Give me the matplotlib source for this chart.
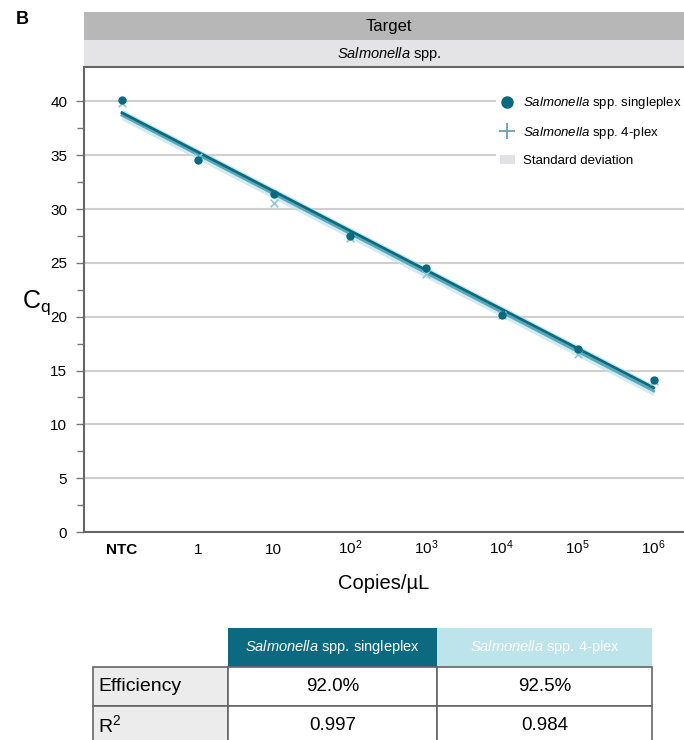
import numpy as np
import matplotlib
matplotlib.use('Agg')
import matplotlib.pyplot as plt
from matplotlib.patches import Rectangle, Patch
from matplotlib.lines import Line2D

plt.rcParams['font.family'] = ['Liberation Sans', 'DejaVu Sans']
plt.rcParams['mathtext.fontset'] = 'custom'
plt.rcParams['mathtext.rm'] = 'Liberation Sans'
plt.rcParams['mathtext.it'] = 'Liberation Sans:italic'
plt.rcParams['mathtext.bf'] = 'Liberation Sans:bold'

# data
dilutions = ['NTC', '1', '10', '10$^2$', '10$^3$', '10$^4$', '10$^5$', '10$^6$']
cq_single = [40.1, 34.6, 31.4, 27.5, 24.5, 20.2, 17.0, 14.1]
cq_4plex = [39.9, 34.8, 30.6, 27.3, 24.0, 20.2, 16.5, 14.0]
sd_single = 0.3
sd_4plex = 0.45

table_cols = ['$\\it{Salmonella}$ spp. singleplex', '$\\it{Salmonella}$ spp. 4-plex']
table_rows = ['Efficiency', 'R$^2$']
table_vals = [['92.0%', '92.5%'], ['0.997', '0.984']]

dark = '#0b6a80'
light = '#8dcbd8'
W, H = 684, 740

fig = plt.figure(figsize=(W / 100, H / 100), dpi=100)

# overlay in pixel coords for the header bands and the table
over = fig.add_axes([0, 0, 1, 1])
over.set_xlim(0, W)
over.set_ylim(H, 0)
over.axis('off')

over.text(22, 20, 'B', fontsize=13, fontweight='bold', ha='center', va='center')
over.add_patch(Rectangle((84, 12), W - 84, 28, color='#b7b7b8', lw=0))
over.add_patch(Rectangle((84, 40), W - 84, 26, color='#e4e4e6', lw=0))
over.text(389, 27, 'Target', fontsize=12, ha='center', va='center')
over.text(389, 54, '$\\it{Salmonella}$ spp.', fontsize=10.5, ha='center', va='center')

ax = fig.add_axes([84 / W, (H - 532) / H, (W - 84) / W, (532 - 67) / H])
x = np.arange(len(dilutions))

for vals, sd, col, lcol in [(cq_4plex, sd_4plex, '#bfe3ea', '#5aa8ba'),
                            (cq_single, sd_single, '#a9d8e2', dark)]:
    k, b = np.polyfit(x, vals, 1)
    fit = k * x + b
    ax.fill_between(x, fit - sd, fit + sd, color=col, alpha=0.7, lw=0, zorder=2)
    ax.plot(x, fit, color=lcol, lw=2, zorder=3)

ax.scatter(x, cq_4plex, marker='x', s=30, color=light, lw=1.2, zorder=4)
ax.scatter(x, cq_single, marker='o', s=36, color=dark, lw=0, zorder=5)

ax.set_xlim(-0.5, 7.4)
ax.set_ylim(0, 43.2)
ax.set_yticks(np.arange(0, 41, 5))
ax.set_yticks(np.arange(2.5, 41, 5), minor=True)
ax.yaxis.grid(True, color='#cfcfcf', lw=1.5)
ax.set_axisbelow(True)
ax.set_xticks(x)
ax.set_xticklabels(dilutions)
ax.tick_params(axis='y', which='major', length=6, width=1, color='#777777', labelsize=11, pad=6)
ax.tick_params(axis='y', which='minor', length=5, width=1, color='#777777')
ax.tick_params(axis='x', length=0, labelsize=11, pad=16)
for lab in ax.get_xticklabels():
    lab.set_va('baseline')
ax.get_xticklabels()[0].set_fontweight('bold')
ax.spines['right'].set_visible(False)
for s in ['left', 'bottom', 'top']:
    ax.spines[s].set_color('#666666')
    ax.spines[s].set_linewidth(1.5)

ax.set_xlabel('Copies/µL', fontsize=14.5, labelpad=12)
fig.text(22 / W, 1 - 303 / H, 'C$_{\\rm q}$', fontsize=18, ha='left', va='center')

handles = [Line2D([], [], marker='o', color=dark, ls='', markersize=8),
           Line2D([], [], marker='+', color='#6b9fb3', ls='', markersize=12, mew=1.3),
           Patch(facecolor='#e2e2e4', edgecolor='none')]
labels = ['$\\it{Salmonella}$ spp. singleplex', '$\\it{Salmonella}$ spp. 4-plex', 'Standard deviation']
leg = ax.legend(handles, labels, loc='upper left', bbox_to_anchor=(0.675, 0.962),
                fontsize=9.5, frameon=True, facecolor='white', edgecolor='none',
                framealpha=1, handlelength=1.2, handletextpad=0.6, labelspacing=1.05,
                borderpad=0.3)
leg.set_zorder(6)

# results table
col_x = [93, 228, 437, 652]
row_y = [628, 667, 706, 745]
hdr_colors = [dark, '#bde3eb']
for j in range(2):
    over.add_patch(Rectangle((col_x[j + 1], row_y[0]), col_x[j + 2] - col_x[j + 1],
                             row_y[1] - row_y[0], color=hdr_colors[j], lw=0))
    over.text((col_x[j + 1] + col_x[j + 2]) / 2, (row_y[0] + row_y[1]) / 2, table_cols[j],
              color='white', fontsize=10.5, ha='center', va='center')
for i in range(2):
    y0, y1 = row_y[i + 1], row_y[i + 2]
    over.add_patch(Rectangle((col_x[0], y0), col_x[1] - col_x[0], y1 - y0,
                             facecolor='#ececec', edgecolor='#666666', lw=1.2))
    over.text(col_x[0] + 5, (y0 + y1) / 2, table_rows[i], fontsize=14,
              ha='left', va='center')
    for j in range(2):
        over.add_patch(Rectangle((col_x[j + 1], y0), col_x[j + 2] - col_x[j + 1], y1 - y0,
                                 facecolor='white', edgecolor='#666666', lw=1.2))
        over.text((col_x[j + 1] + col_x[j + 2]) / 2, (y0 + y1) / 2, table_vals[i][j],
                  fontsize=13.5, ha='center', va='center')

fig.savefig('out.png', dpi=100)
